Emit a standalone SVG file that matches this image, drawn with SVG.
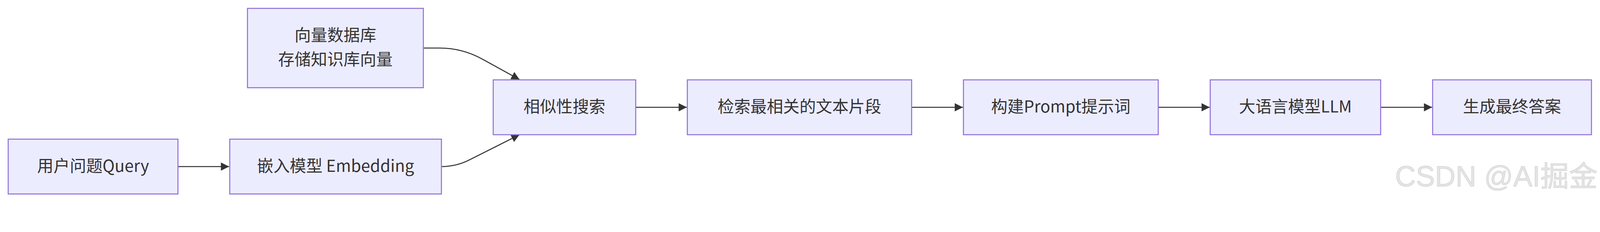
<svg xmlns="http://www.w3.org/2000/svg" width="4694" height="594" viewBox="0 0 4694 594">
<style>
svg{max-width:100%;height:auto}
.node rect{fill:#ECECFF;stroke:#9370DB;stroke-width:3}
.node text{font-family:"Noto Sans CJK SC","Liberation Sans",sans-serif;font-size:48px;fill:#333333;text-anchor:middle}
.edge{fill:none;stroke:#333333;stroke-width:3}
.wm{font-family:"Liberation Sans","Noto Sans CJK SC",sans-serif;font-size:84px;fill:#e4e4e4;stroke:#cccccc;stroke-width:1}
</style>
<defs>
<marker id="arrow" viewBox="0 0 10 10" refX="10" refY="5" markerUnits="userSpaceOnUse" markerWidth="24" markerHeight="24" orient="auto">
<path d="M0,0 L10,5 L0,10 z" fill="#333333"/>
</marker>
</defs>
<rect width="4694" height="594" fill="#ffffff"/>
<g id="connectors">
<path class="edge" d="M522,489 L672,489" marker-end="url(#arrow)"/>
<path class="edge" d="M1242,141 L1290,141 Q1356,141 1415,173.5 L1524,233.5" marker-end="url(#arrow)"/>
<path class="edge" d="M1295,489 Q1340,489 1380,468 L1524,395.5" marker-end="url(#arrow)"/>
<path class="edge" d="M1865,315 L2015,315" marker-end="url(#arrow)"/>
<path class="edge" d="M2674.5,315 L2825,315" marker-end="url(#arrow)"/>
<path class="edge" d="M3398,315 L3549,315" marker-end="url(#arrow)"/>
<path class="edge" d="M4050.5,315 L4201.5,315" marker-end="url(#arrow)"/>
</g>
<g id="node-query" class="node">
<rect x="24" y="408.5" width="498" height="161"/>
<text x="273" y="504">用户问题Query</text>
</g>
<g id="node-embedding" class="node">
<rect x="674" y="408.5" width="621" height="161"/>
<text x="984.5" y="504">嵌入模型 Embedding</text>
</g>
<g id="node-vectordb" class="node">
<rect x="726" y="24.5" width="516" height="233"/>
<text x="984" y="120">向量数据库</text>
<text x="984" y="192">存储知识库向量</text>
</g>
<g id="node-search" class="node">
<rect x="1447" y="234.5" width="418" height="161"/>
<text x="1656" y="330">相似性搜索</text>
</g>
<g id="node-retrieve" class="node">
<rect x="2016.5" y="234.5" width="658" height="161"/>
<text x="2345.5" y="330">检索最相关的文本片段</text>
</g>
<g id="node-prompt" class="node">
<rect x="2826.5" y="234.5" width="571.5" height="161"/>
<text x="3112" y="330">构建Prompt提示词</text>
</g>
<g id="node-llm" class="node">
<rect x="3550.5" y="234.5" width="500" height="161"/>
<text x="3800.5" y="330">大语言模型LLM</text>
</g>
<g id="node-answer" class="node">
<rect x="4203" y="234.5" width="466" height="161"/>
<text x="4436" y="330">生成最终答案</text>
</g>
<text class="wm" x="4093" y="547">CSDN @AI掘金</text>
</svg>
